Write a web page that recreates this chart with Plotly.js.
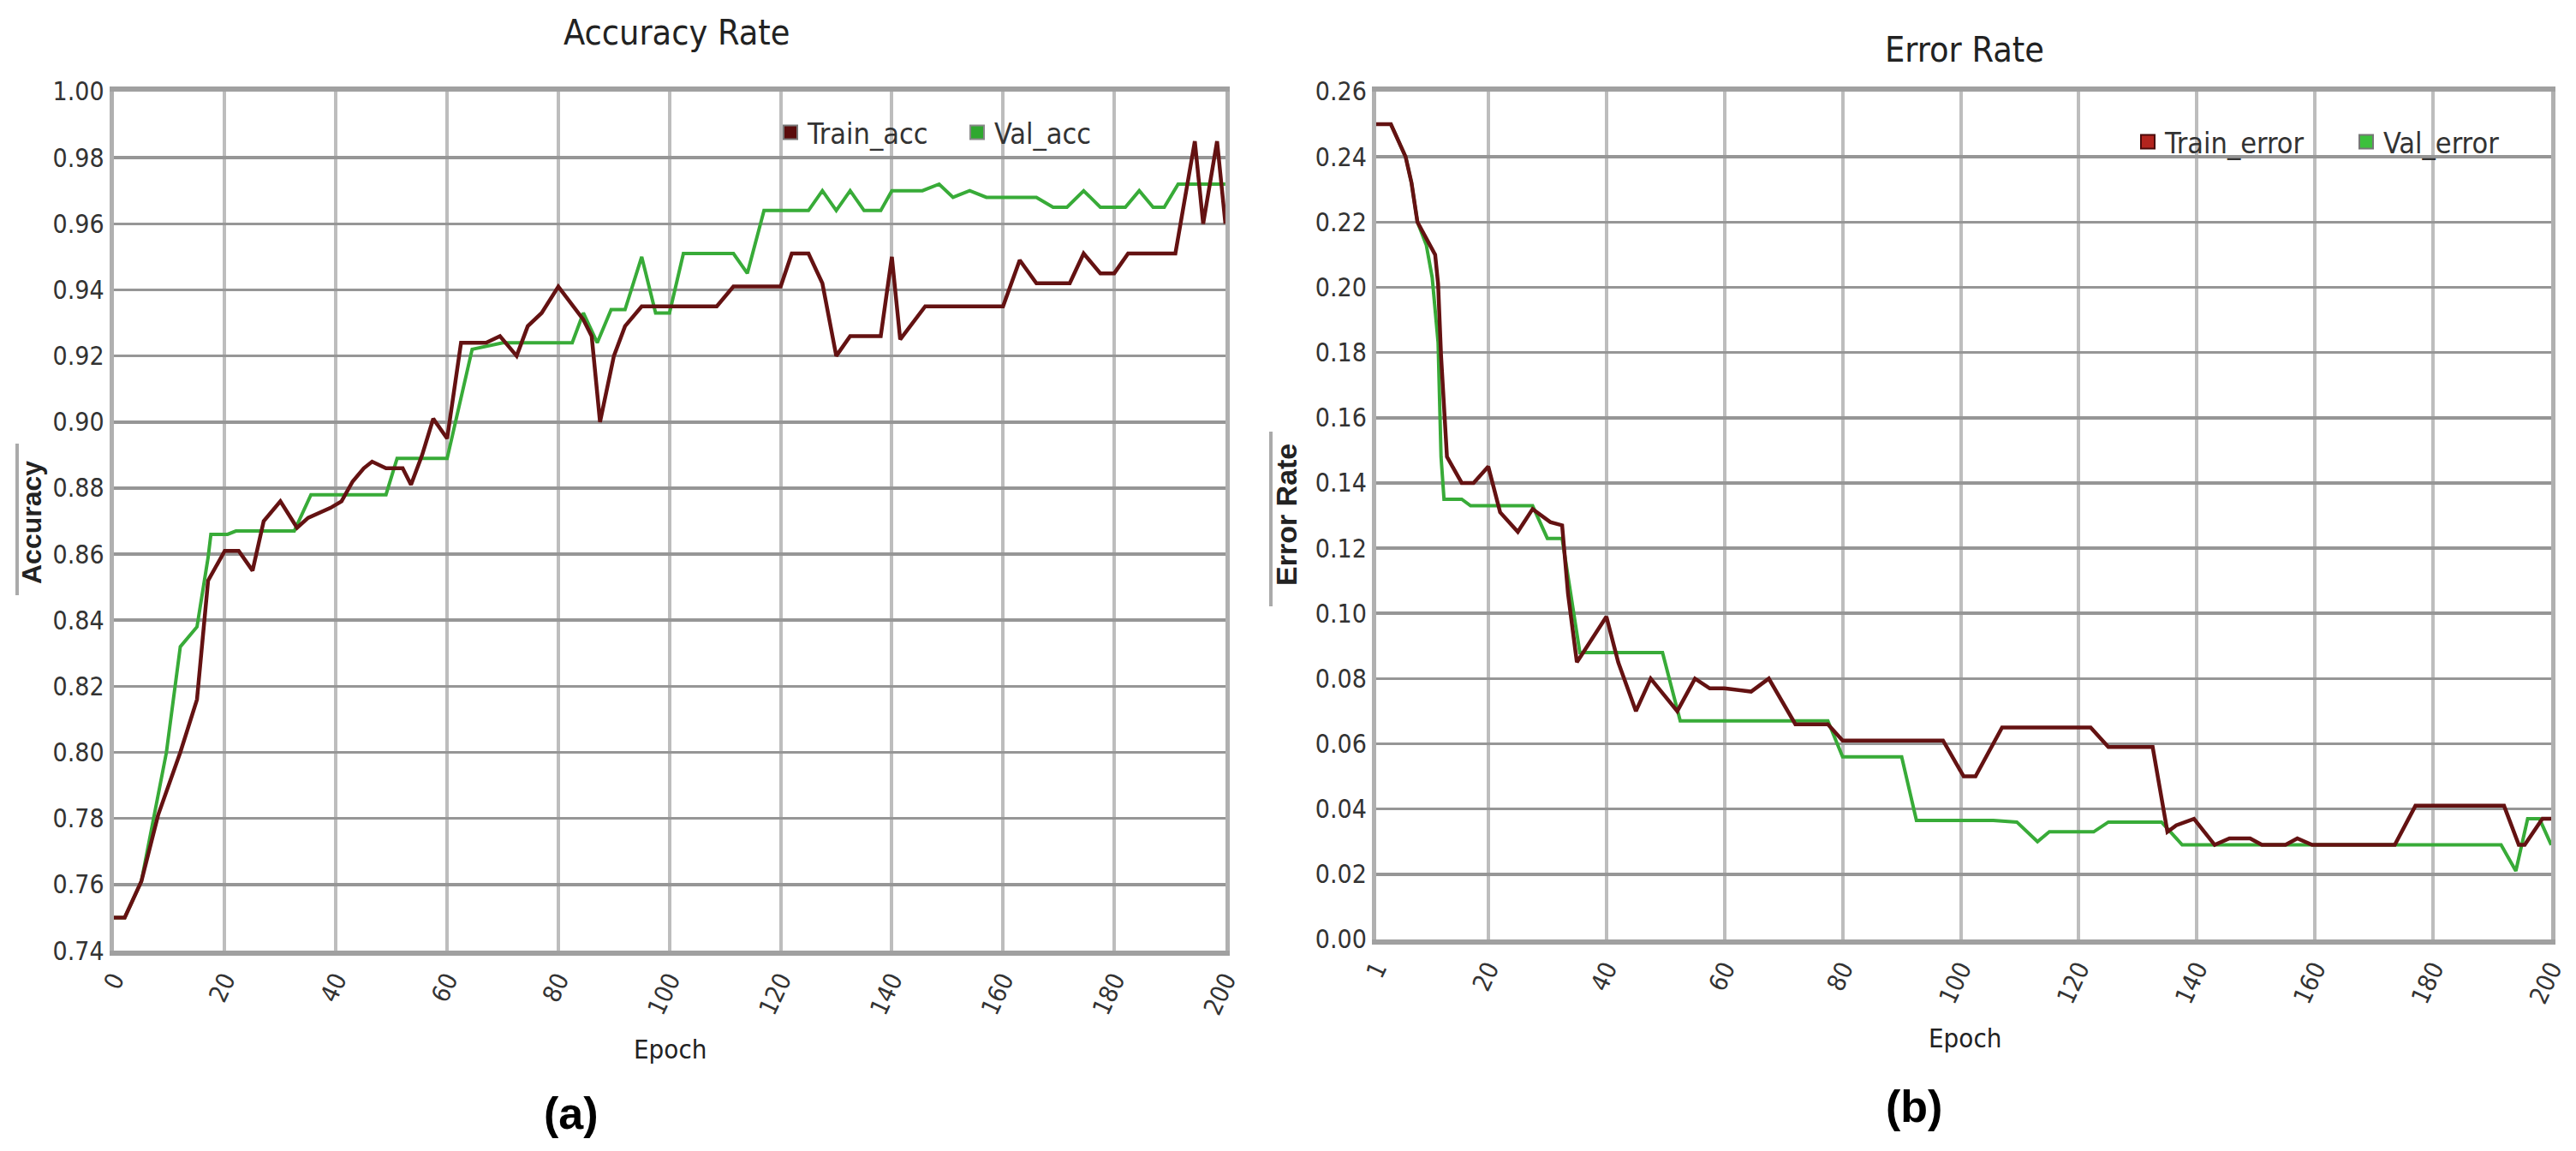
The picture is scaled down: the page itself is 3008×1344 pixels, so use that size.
<!DOCTYPE html>
<html>
<head>
<meta charset="utf-8">
<script src="https://cdn.plot.ly/plotly-3.0.1.min.js"></script>
<style>
html, body {margin: 0; padding: 0; background: #fff;}
#chart {width: 3008px; height: 1344px;}
</style>
</head>
<body>
<div id="chart"></div>
<script>
// (a) accuracy curves
var trainAccEpoch = [0, 2, 5, 8, 12, 15, 17, 20, 22.5, 25, 27, 30, 33, 35, 39, 41, 43, 45, 46.5, 49,
  52, 53.5, 55.5, 57.5, 60, 62.5, 67, 69.5, 70.5, 72.5, 74.5, 77, 80, 84.5, 86, 87.5, 90, 92, 95, 108.5,
  111.5, 120, 122, 125, 127.5, 130, 132.5, 138, 140, 141.5, 146, 160, 163, 166, 172, 174.5, 177.5, 180, 182.5, 191,
  194.5, 196, 198.5, 200];
var trainAcc = [0.750, 0.750, 0.761, 0.781, 0.800, 0.816, 0.852, 0.861, 0.861, 0.855, 0.870, 0.876, 0.868, 0.871, 0.874, 0.876, 0.882, 0.886, 0.888, 0.886,
  0.886, 0.881, 0.890, 0.901, 0.895, 0.924, 0.924, 0.926, 0.924, 0.920, 0.929, 0.933, 0.941, 0.931, 0.926, 0.900, 0.920, 0.929, 0.935, 0.935,
  0.941, 0.941, 0.951, 0.951, 0.942, 0.920, 0.926, 0.926, 0.950, 0.925, 0.935, 0.935, 0.949, 0.942, 0.942, 0.951, 0.945, 0.945, 0.951, 0.951,
  0.985, 0.960, 0.985, 0.960];

var valAccEpoch = [0, 2, 5, 7.5, 9.5, 12, 15, 17, 17.5, 20.5, 22, 32.5, 35.5, 49, 51, 60, 64.5, 70, 82.5, 84.5,
  87, 89.5, 92, 95, 97.5, 100, 102.5, 111.5, 114, 117, 125, 127.5, 130, 132.5, 135, 138, 140, 145.5, 148.5, 151,
  154, 157, 166, 169, 171.5, 174.5, 177.5, 182, 184.5, 187, 189, 191.5, 200];
var valAcc = [0.750, 0.750, 0.761, 0.783, 0.800, 0.832, 0.838, 0.859, 0.866, 0.866, 0.867, 0.867, 0.878, 0.878, 0.889, 0.889, 0.922, 0.924, 0.924, 0.933,
  0.924, 0.934, 0.934, 0.950, 0.933, 0.933, 0.951, 0.951, 0.945, 0.964, 0.964, 0.970, 0.964, 0.970, 0.964, 0.964, 0.970, 0.970, 0.972, 0.968,
  0.970, 0.968, 0.968, 0.965, 0.965, 0.970, 0.965, 0.965, 0.970, 0.965, 0.965, 0.972, 0.972];

// (b) error curves
var trainErrEpoch = [1, 3.5, 4.5, 6, 7, 8, 9.5, 11, 11.5, 12, 13, 15.5, 17.5, 20, 22, 25, 27.5, 30.5, 32.5, 33.5,
  35, 40, 42, 45, 47.5, 52, 55, 57.5, 60, 64.5, 67.5, 72, 77.5, 80, 97, 100.5, 102.5, 107, 122, 125,
  132.5, 135, 136.5, 139.5, 143, 145.5, 149, 151, 155, 157, 159.5, 173.5, 177, 192, 194.5, 195.5, 198.5, 200];
var trainErr = [0.250, 0.250, 0.246, 0.240, 0.232, 0.220, 0.215, 0.210, 0.201, 0.179, 0.148, 0.140, 0.140, 0.145, 0.131, 0.125, 0.132, 0.128, 0.127, 0.106,
  0.085, 0.099, 0.085, 0.070, 0.080, 0.070, 0.080, 0.077, 0.077, 0.076, 0.080, 0.066, 0.066, 0.061, 0.061, 0.050, 0.050, 0.065, 0.065, 0.059,
  0.059, 0.033, 0.035, 0.037, 0.029, 0.031, 0.031, 0.029, 0.029, 0.031, 0.029, 0.029, 0.041, 0.041, 0.029, 0.029, 0.037, 0.037];

var valErrEpoch = [1, 3.5, 4.5, 6, 7, 8, 9.5, 10.5, 11.5, 12, 12.5, 15.5, 17, 27.5, 30, 32.5, 35.5, 49.5, 52.5, 77.5,
  80, 90, 92.5, 105.5, 109.5, 113, 115, 122.5, 125, 134, 137.5, 191.5, 194, 196, 198, 200];
var valErr = [0.250, 0.250, 0.246, 0.240, 0.232, 0.220, 0.213, 0.203, 0.183, 0.148, 0.135, 0.135, 0.133, 0.133, 0.123, 0.123, 0.088, 0.088, 0.067, 0.067,
  0.056, 0.056, 0.0365, 0.0365, 0.036, 0.030, 0.033, 0.033, 0.036, 0.036, 0.029, 0.029, 0.021, 0.037, 0.037, 0.029];

var errEpochTicks = [1, 20, 40, 60, 80, 100, 120, 140, 160, 180, 200];

var trainColor = '#641212';
var valColor = '#38ab38';
var narrow = 'Liberation Sans Narrow, Arial Narrow, DejaVu Sans Condensed, sans-serif';
var W = 3008, H = 1344;

// helper: one legend entry per legend box so each can sit where the picture has it
function swatch(name, legendId, axes, fill, edge) {
  return {x: [null], y: [null], type: 'scatter', mode: 'markers', name: name, legend: legendId,
    xaxis: axes[0], yaxis: axes[1],
    marker: {symbol: 'square', size: 18, color: fill, line: {color: edge, width: 2}}};
}
function legendAt(px, py) {
  return {x: px / W, y: 1 - py / H, xanchor: 'left', yanchor: 'top', orientation: 'h',
    bgcolor: 'rgba(255,255,255,0)', font: {family: narrow, size: 34, color: '#333'}};
}
function note(text, px, py, size, extra) {
  return Object.assign({text: text, xref: 'paper', yref: 'paper', x: px / W, y: 1 - py / H,
    xanchor: 'center', yanchor: 'middle', showarrow: false,
    font: {family: narrow, size: size, color: '#222'}}, extra || {});
}

var data = [
  {x: valAccEpoch, y: valAcc, type: 'scatter', mode: 'lines', line: {color: valColor, width: 4}, showlegend: false, xaxis: 'x', yaxis: 'y'},
  {x: trainAccEpoch, y: trainAcc, type: 'scatter', mode: 'lines', line: {color: trainColor, width: 4.5}, showlegend: false, xaxis: 'x', yaxis: 'y'},
  {x: valErrEpoch, y: valErr, type: 'scatter', mode: 'lines', line: {color: valColor, width: 4}, showlegend: false, xaxis: 'x2', yaxis: 'y2'},
  {x: trainErrEpoch, y: trainErr, type: 'scatter', mode: 'lines', line: {color: trainColor, width: 4.5}, showlegend: false, xaxis: 'x2', yaxis: 'y2'},
  swatch('Train_acc', 'legend', ['x', 'y'], '#5a0c0c', '#777'),
  swatch('Val_acc', 'legend2', ['x', 'y'], '#2fa82f', '#888'),
  swatch('Train_error', 'legend3', ['x2', 'y2'], '#b3241e', '#4a0a0a'),
  swatch('Val_error', 'legend4', ['x2', 'y2'], '#3cc03c', '#777')
];

var xBase = {
  showgrid: true, gridcolor: '#bdbdbd', gridwidth: 4, zeroline: false,
  showline: true, mirror: true, linecolor: '#a0a0a0', linewidth: 6,
  ticks: '', tickangle: -65, tickfont: {family: narrow, size: 29, color: '#333'}
};
var yBase = {
  showgrid: true, gridcolor: '#969696', gridwidth: 3.5, zeroline: false,
  showline: true, mirror: true, linecolor: '#b0b0b0', linewidth: 5,
  ticks: '', dtick: 0.02, tickformat: '.2f', tickfont: {family: narrow, size: 30, color: '#333'}
};

var boldFont = {family: 'Liberation Sans, Arial, sans-serif', size: 32, color: '#222', weight: 'bold'};
var labelFont = {family: 'Liberation Sans, Arial, sans-serif', size: 52, color: '#000'};

var layout = {
  width: W, height: H,
  paper_bgcolor: '#fff', plot_bgcolor: '#fff',
  margin: {l: 0, r: 0, t: 0, b: 0},
  xaxis: Object.assign({}, xBase, {domain: [0.0441, 0.4757], range: [0, 200], dtick: 20, anchor: 'y'}),
  yaxis: Object.assign({}, yBase, {domain: [0.1741, 0.9204], range: [0.74, 1.00], tick0: 0.74, anchor: 'x'}),
  xaxis2: Object.assign({}, xBase, {domain: [0.5342, 0.9904], range: [1, 200], tickvals: errEpochTicks, anchor: 'y2'}),
  yaxis2: Object.assign({}, yBase, {domain: [0.1838, 0.9204], range: [0, 0.26], tick0: 0, anchor: 'x2'}),
  legend: legendAt(903, 126),
  legend2: legendAt(1121, 126),
  legend3: legendAt(2488, 137),
  legend4: legendAt(2743, 137),
  annotations: [
    note('Accuracy Rate', 790, 38, 41),
    note('Error Rate', 2294, 58, 41),
    note('Accuracy', 37, 610, 32, {textangle: -90, font: boldFont}),
    note('Error Rate', 1502, 601, 34, {textangle: -90, font: Object.assign({}, boldFont, {size: 34})}),
    note('Epoch', 782, 1225, 31),
    note('Epoch', 2294, 1212, 31),
    note('<b>(a)</b>', 667, 1300, 52, {font: labelFont}),
    note('<b>(b)</b>', 2235, 1292, 52, {font: labelFont})
  ],
  shapes: [
    // white patch behind the first legend (hides the grid there)
    {type: 'rect', layer: 'between', xref: 'paper', yref: 'paper', x0: 911 / W, x1: 1278 / W, y0: 1 - 190 / H, y1: 1 - 132 / H,
      fillcolor: '#fff', line: {width: 0}},
    // the bar drawn over each rotated y title
    {type: 'line', xref: 'paper', yref: 'paper', x0: 20 / W, x1: 20 / W, y0: 1 - 518 / H, y1: 1 - 695 / H,
      line: {color: '#aaa', width: 4}},
    {type: 'line', xref: 'paper', yref: 'paper', x0: 1484 / W, x1: 1484 / W, y0: 1 - 504 / H, y1: 1 - 708 / H,
      line: {color: '#aaa', width: 4}}
  ]
};

Plotly.newPlot('chart', data, layout, {staticPlot: true});
</script>
</body>
</html>
